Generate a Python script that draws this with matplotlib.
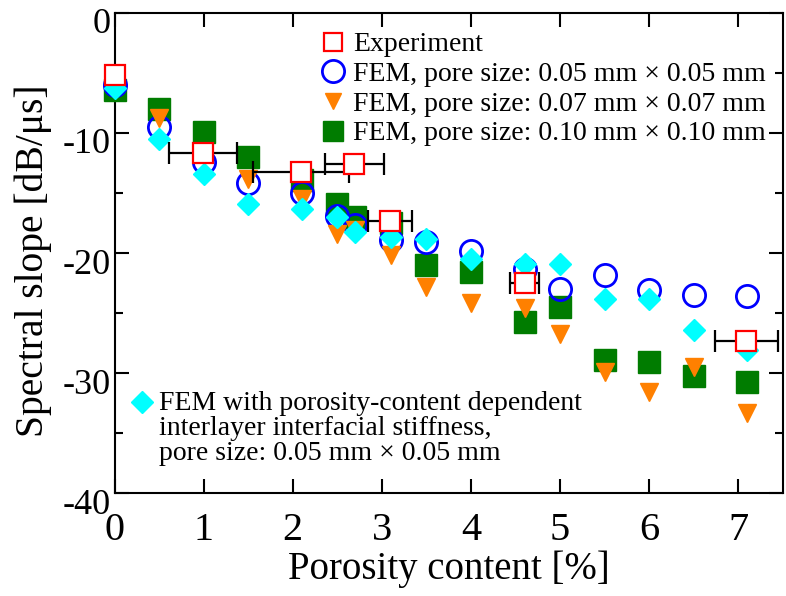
import numpy as np
import matplotlib
matplotlib.use('Agg')
import matplotlib.pyplot as plt
from matplotlib.lines import Line2D
from matplotlib.transforms import ScaledTranslation

plt.rcParams['font.family'] = ['Liberation Serif', 'DejaVu Serif']
plt.rcParams['axes.unicode_minus'] = False

# porosity content [%] shared by all FEM series
porosity = [0, 0.5, 1, 1.5, 2.1, 2.5, 2.7, 3.1, 3.5, 4, 4.6, 5, 5.5, 6, 6.5, 7.1]

fem_005 = [-6.0, -9.5, -12.4, -14.2, -15.0, -16.9, -17.7, -18.9, -19.1, -19.8,
           -21.3, -23.0, -21.85, -23.05, -23.5, -23.6]
fem_007 = [-6.2, -8.8, -11.8, -13.8, -15.5, -18.4, -18.1, -20.2, -22.8, -24.2,
           -24.6, -26.7, -29.9, -31.6, -29.5, -33.3]
fem_010 = [-6.4, -8.0, -9.9, -12.0, -13.9, -15.9, -17.0, -17.5, -21.0, -21.6,
           -25.75, -24.5, -28.9, -29.1, -30.2, -30.75]
fem_stiff = [-6.3, -10.5, -13.4, -15.9, -16.3, -17.0, -18.25, -18.7, -18.8, -20.5,
             -20.9, -20.9, -23.85, -23.85, -26.4, -28.1]

exp_x = [0, 0.99, 2.09, 2.69, 3.09, 4.6, 7.09]
exp_y = [-5.2, -11.7, -13.25, -12.6, -17.3, -22.5, -27.3]
exp_xerr = [0, 0.38, 0.54, 0.33, 0.25, 0.16, 0.35]

green = '#007c00'
orange = '#ff8000'
cyan = '#00ffff'

W, H = 786, 596
fig = plt.figure(figsize=(W / 100, H / 100), dpi=100)
ax = fig.add_axes([114.5 / W, 1 - 493.3 / H, (783 - 114.5) / W, (493.3 - 12.7) / H])

ax.plot(porosity, fem_010, 's', ms=16, color=green, zorder=3, clip_on=False)
ax.plot(porosity, fem_005, 'o', ms=16, mfc='none', mec='#0000ff', mew=2, zorder=4, clip_on=False)
ax.plot(porosity, fem_007, 'v', ms=12.5, color=orange, zorder=5, clip_on=False)
ax.plot(porosity, fem_stiff, 'D', ms=11.5, color=cyan, zorder=6, clip_on=False)
ax.errorbar(exp_x, exp_y, xerr=exp_xerr, fmt='none', ecolor='black',
            elinewidth=1.6, capsize=8, capthick=1.6, zorder=7)
ax.plot(exp_x, exp_y, 's', ms=14.5, mfc='white', mec='#ff0000', mew=1.6, zorder=8, clip_on=False)

ax.set_xlim(0, 7.5)
ax.set_ylim(-40, 0)
ax.set_xticks(range(0, 8))
ax.set_yticks([-40, -30, -20, -10, 0])
ax.set_yticks(np.arange(-35, 0, 10), minor=True)
ax.tick_params(which='both', direction='in', top=True, right=True, width=1.5)
ax.tick_params(which='major', length=10)
ax.tick_params(which='minor', length=6)
ax.tick_params(axis='x', labelsize=29, pad=13.7)
ax.tick_params(axis='y', labelsize=26, pad=3)
for s in ax.spines.values():
    s.set_linewidth(1.5)

# y tick labels sit a little below their ticks
shift = ScaledTranslation(0, -8 / 100, fig.dpi_scale_trans)
for lab in ax.get_yticklabels():
    lab.set_transform(lab.get_transform() + shift)

ax.set_xlabel('Porosity content [%]', fontsize=28, labelpad=0.5)
ax.set_ylabel('Spectral slope [dB/μs]', fontsize=28.5)
ax.yaxis.set_label_coords((52 - 114.5) / 668.5, (493.3 - 261) / 480.6)

handles = [
    Line2D([], [], ls='none', marker='s', ms=13, mfc='white', mec='#ff0000', mew=1.6),
    Line2D([], [], ls='none', marker='o', ms=16, mfc='none', mec='#0000ff', mew=2),
    Line2D([], [], ls='none', marker='v', ms=12, color=orange),
    Line2D([], [], ls='none', marker='s', ms=14.5, color=green),
]
labels = ['Experiment',
          'FEM, pore size: 0.05 mm × 0.05 mm',
          'FEM, pore size: 0.07 mm × 0.07 mm',
          'FEM, pore size: 0.10 mm × 0.10 mm']
ax.legend(handles, labels, loc='upper left', bbox_to_anchor=(320 / W, 1 - 32 / H),
          bbox_transform=fig.transFigure, frameon=False, fontsize=20,
          handlelength=0.95, handletextpad=0.25, labelspacing=0.15,
          borderpad=0, borderaxespad=0, numpoints=1)

# second legend entry (diamond series), placed at lower left
ax.plot([0.0407], [0.1906], 'D', ms=11.5, color=cyan, transform=ax.transAxes, clip_on=False)
ax.text(0.067, 0.212, 'FEM with porosity-content dependent\ninterlayer interfacial stiffness,\n'
        'pore size: 0.05 mm × 0.05 mm', transform=ax.transAxes, fontsize=20,
        va='top', ha='left', linespacing=1.0)

fig.savefig('out.png', dpi=100)
